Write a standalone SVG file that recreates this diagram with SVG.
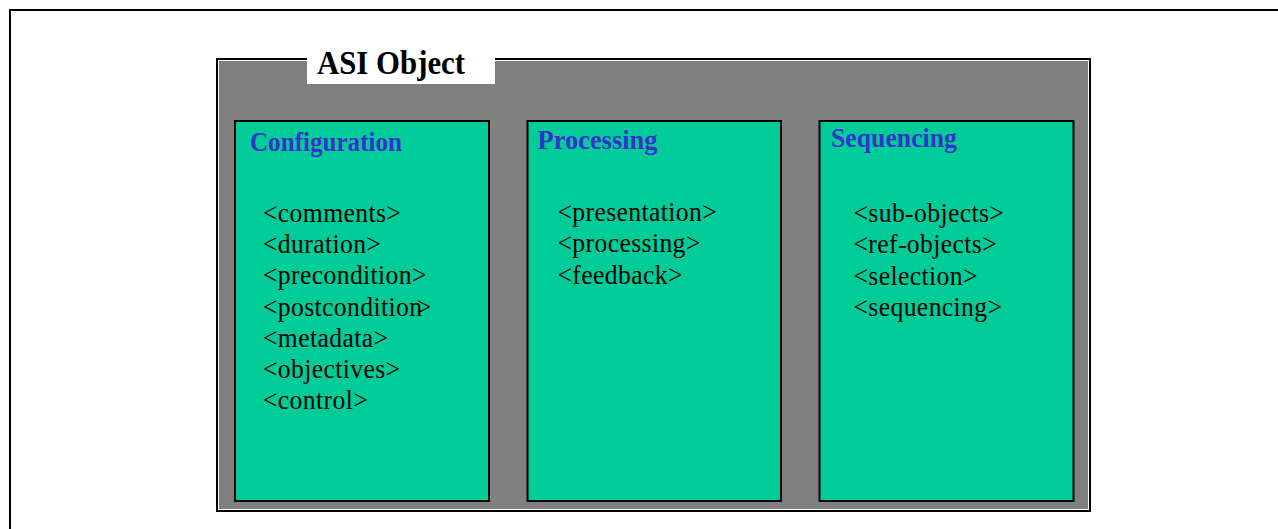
<svg xmlns="http://www.w3.org/2000/svg" width="1278" height="529" viewBox="0 0 1278 529">
  <style>
    .frame { fill: none; stroke: #000; stroke-width: 2; }
    .panel { fill: #00CC99; stroke: #000; stroke-width: 2; }
    .head { font-family: "Liberation Serif", "Times New Roman", serif; font-weight: bold; font-size: 27px; fill: #3333CC; }
    .item { font-family: "Liberation Serif", "Times New Roman", serif; font-size: 27px; letter-spacing: 0.4px; fill: #000; }
    .title { font-family: "Liberation Serif", "Times New Roman", serif; font-weight: bold; font-size: 34px; fill: #000; }
  </style>

  <rect x="0" y="0" width="1278" height="529" fill="#fff"/>

  <!-- page frame (open to the right and bottom) -->
  <path class="frame" d="M10,529 V10 H1278"/>

  <!-- ASI object container -->
  <g id="asi-object">
    <rect x="217" y="59" width="873" height="452" fill="#808080" stroke="#000" stroke-width="2"/>
    <rect x="218.5" y="60.5" width="870" height="449" fill="none" stroke="#fff" stroke-width="1"/>
    <rect x="307" y="46" width="188" height="38" fill="#fff"/>
    <text class="title" x="317" y="73.5" textLength="148" lengthAdjust="spacingAndGlyphs">ASI Object</text>
  </g>

  <!-- configuration panel -->
  <g id="configuration">
    <rect class="panel" x="235" y="121" width="254" height="380"/>
    <text class="head" x="250" y="150.5" textLength="152" lengthAdjust="spacingAndGlyphs">Configuration</text>
    <g transform="translate(263 0) scale(0.95 1)">
      <text class="item" x="0" y="221.7">&lt;comments&gt;</text>
      <text class="item" x="0" y="253">&lt;duration&gt;</text>
      <text class="item" x="0" y="284.3">&lt;precondition&gt;</text>
      <text class="item" x="0" y="315.6">&lt;postcondition<tspan dx="-6" letter-spacing="0">&gt;</tspan></text>
      <text class="item" x="0" y="346.9">&lt;metadata&gt;</text>
      <text class="item" x="0" y="378.2">&lt;objectives&gt;</text>
      <text class="item" x="0" y="409.5">&lt;control&gt;</text>
    </g>
  </g>

  <!-- processing panel -->
  <g id="processing">
    <rect class="panel" x="527.5" y="121" width="253.5" height="380"/>
    <text class="head" x="537.5" y="149.3" textLength="120" lengthAdjust="spacingAndGlyphs">Processing</text>
    <g transform="translate(557.5 0) scale(0.95 1)">
      <text class="item" x="0" y="220.7">&lt;presentation&gt;</text>
      <text class="item" x="0" y="252.2">&lt;processing&gt;</text>
      <text class="item" x="0" y="283.7">&lt;feedback&gt;</text>
    </g>
  </g>

  <!-- sequencing panel -->
  <g id="sequencing">
    <rect class="panel" x="819.5" y="121" width="254" height="380"/>
    <text class="head" x="831" y="146.7" textLength="126" lengthAdjust="spacingAndGlyphs">Sequencing</text>
    <g transform="translate(853.5 0) scale(0.95 1)">
      <text class="item" x="0" y="222">&lt;sub-objects&gt;</text>
      <text class="item" x="0" y="253.5">&lt;ref-objects&gt;</text>
      <text class="item" x="0" y="285">&lt;selection&gt;</text>
      <text class="item" x="0" y="316.5">&lt;sequencing&gt;</text>
    </g>
  </g>

  <g id="connectors"/>
</svg>
